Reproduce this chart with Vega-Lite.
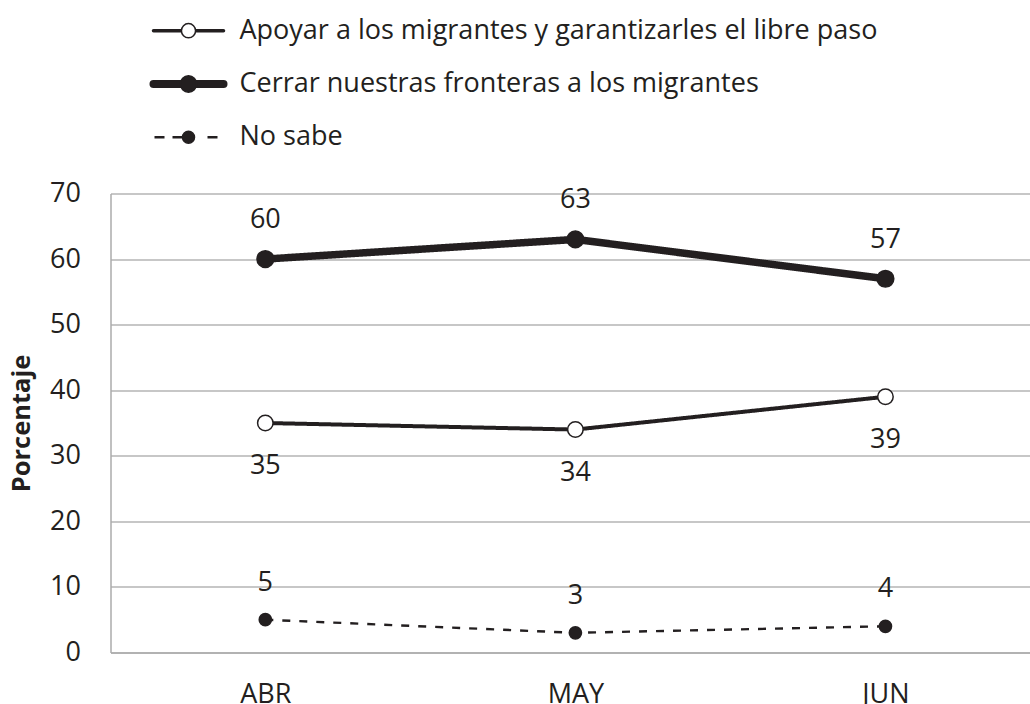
{
  "$schema": "https://vega.github.io/schema/vega-lite/v6.json",
  "padding": {"left": 9.5, "top": 4, "right": 0, "bottom": 0},
  "spacing": 15.5,
  "background": "white",
  "config": {
    "view": {"stroke": null},
    "font": "Open Sans",
    "axis": {"labelFont": "Open Sans", "titleFont": "Open Sans", "labelColor": "#231f20", "titleColor": "#231f20"}
  },
  "resolve": {"scale": {"strokeWidth": "independent", "strokeDash": "independent", "size": "independent", "fill": "independent"}},
  "datasets": {
    "valores": [
      {"mes": "ABR", "serie": "Apoyar a los migrantes y garantizarles el libre paso", "valor": 35},
      {"mes": "MAY", "serie": "Apoyar a los migrantes y garantizarles el libre paso", "valor": 34},
      {"mes": "JUN", "serie": "Apoyar a los migrantes y garantizarles el libre paso", "valor": 39},
      {"mes": "ABR", "serie": "Cerrar nuestras fronteras a los migrantes", "valor": 60},
      {"mes": "MAY", "serie": "Cerrar nuestras fronteras a los migrantes", "valor": 63},
      {"mes": "JUN", "serie": "Cerrar nuestras fronteras a los migrantes", "valor": 57},
      {"mes": "ABR", "serie": "No sabe", "valor": 5},
      {"mes": "MAY", "serie": "No sabe", "valor": 3},
      {"mes": "JUN", "serie": "No sabe", "valor": 4}
    ],
    "series": [
      {"serie": "Apoyar a los migrantes y garantizarles el libre paso"},
      {"serie": "Cerrar nuestras fronteras a los migrantes"},
      {"serie": "No sabe"}
    ]
  },
  "vconcat": [
    {
      "width": 919,
      "height": 160,
      "data": {"name": "series"},
      "encoding": {
        "y": {
          "field": "serie", "type": "nominal",
          "scale": {"type": "point", "padding": 0.5, "domain": ["Apoyar a los migrantes y garantizarles el libre paso", "Cerrar nuestras fronteras a los migrantes", "No sabe"]},
          "axis": null
        }
      },
      "layer": [
        {
          "transform": [{"filter": "datum.serie !== 'No sabe'"}],
          "mark": {"type": "rule", "color": "#231f20", "strokeCap": "round"},
          "encoding": {
            "x": {"datum": 0.468, "type": "quantitative", "scale": {"domain": [0, 10], "nice": false, "zero": false}, "axis": null},
            "x2": {"datum": 1.2296},
            "strokeWidth": {
              "field": "serie", "type": "nominal",
              "scale": {"type": "ordinal", "domain": ["Apoyar a los migrantes y garantizarles el libre paso", "Cerrar nuestras fronteras a los migrantes", "No sabe"], "range": [3.5, 8, 2.7]},
              "legend": null
            }
          }
        },
        {
          "transform": [{"filter": "datum.serie === 'No sabe'"}],
          "mark": {"type": "rule", "color": "#231f20", "strokeCap": "butt"},
          "encoding": {
            "x": {"datum": 0.4788, "type": "quantitative"},
            "x2": {"datum": 1.1643},
            "strokeWidth": {"field": "serie", "type": "nominal", "legend": null},
            "strokeDash": {
              "field": "serie", "type": "nominal",
              "scale": {"type": "ordinal", "domain": ["Apoyar a los migrantes y garantizarles el libre paso", "Cerrar nuestras fronteras a los migrantes", "No sabe"], "range": [[1, 0], [1, 0], [10, 8, 10, 25, 10, 100]]},
              "legend": null
            }
          }
        },
        {
          "mark": {"type": "point", "shape": "circle", "filled": true, "stroke": "#231f20", "strokeWidth": 1.5, "opacity": 1},
          "encoding": {
            "x": {"datum": 0.8487, "type": "quantitative"},
            "fill": {
              "field": "serie", "type": "nominal",
              "scale": {"type": "ordinal", "domain": ["Apoyar a los migrantes y garantizarles el libre paso", "Cerrar nuestras fronteras a los migrantes", "No sabe"], "range": ["#ffffff", "#231f20", "#231f20"]},
              "legend": null
            },
            "size": {
              "field": "serie", "type": "nominal",
              "scale": {"type": "ordinal", "domain": ["Apoyar a los migrantes y garantizarles el libre paso", "Cerrar nuestras fronteras a los migrantes", "No sabe"], "range": [200, 270, 145]},
              "legend": null
            }
          }
        },
        {
          "mark": {"type": "text", "align": "left", "baseline": "middle", "fontSize": 27, "font": "Open Sans", "color": "#231f20"},
          "encoding": {
            "x": {"datum": 1.4037, "type": "quantitative"},
            "text": {"field": "serie", "type": "nominal"}
          }
        }
      ]
    },
    {
      "width": 919,
      "height": 459,
      "data": {"name": "valores"},
      "encoding": {
        "x": {
          "field": "mes", "type": "ordinal", "sort": ["ABR", "MAY", "JUN"],
          "scale": {"type": "point", "padding": 0.482, "align": 0.518},
          "axis": {"title": null, "labelAngle": 0, "labelFontSize": 27, "ticks": false, "labelPadding": 29, "domainColor": "#ababab", "domainWidth": 1.5, "grid": false}
        },
        "y": {
          "field": "valor", "type": "quantitative",
          "scale": {"domain": [0, 70], "nice": false},
          "axis": {"title": "Porcentaje", "titleFontSize": 25.5, "titleFontWeight": "bold", "titlePadding": 15, "values": [0, 10, 20, 30, 40, 50, 60, 70], "labelFontSize": 27, "ticks": false, "labelPadding": 30, "domainColor": "#ababab", "domainWidth": 1.5, "gridColor": "#b5b5b5", "gridWidth": 1.5}
        }
      },
      "layer": [
        {
          "mark": {"type": "line", "strokeCap": "butt", "color": "#231f20"},
          "encoding": {
            "detail": {"field": "serie", "type": "nominal"},
            "strokeWidth": {
              "field": "serie", "type": "nominal",
              "scale": {"type": "ordinal", "domain": ["Apoyar a los migrantes y garantizarles el libre paso", "Cerrar nuestras fronteras a los migrantes", "No sabe"], "range": [4, 7.5, 2.4]},
              "legend": null
            },
            "strokeDash": {
              "field": "serie", "type": "nominal",
              "scale": {"type": "ordinal", "domain": ["Apoyar a los migrantes y garantizarles el libre paso", "Cerrar nuestras fronteras a los migrantes", "No sabe"], "range": [[1, 0], [1, 0], [8, 9]]},
              "legend": null
            }
          }
        },
        {
          "mark": {"type": "point", "shape": "circle", "filled": true, "stroke": "#231f20", "strokeWidth": 1.5, "opacity": 1},
          "encoding": {
            "fill": {
              "field": "serie", "type": "nominal",
              "scale": {"type": "ordinal", "domain": ["Apoyar a los migrantes y garantizarles el libre paso", "Cerrar nuestras fronteras a los migrantes", "No sabe"], "range": ["#ffffff", "#231f20", "#231f20"]},
              "legend": null
            },
            "size": {
              "field": "serie", "type": "nominal",
              "scale": {"type": "ordinal", "domain": ["Apoyar a los migrantes y garantizarles el libre paso", "Cerrar nuestras fronteras a los migrantes", "No sabe"], "range": [240, 280, 150]},
              "legend": null
            }
          }
        },
        {
          "transform": [{"filter": "datum.serie === 'Apoyar a los migrantes y garantizarles el libre paso'"}],
          "mark": {"type": "text", "fontSize": 27, "font": "Open Sans", "color": "#231f20", "dy": 43, "baseline": "middle"},
          "encoding": {"text": {"field": "valor", "type": "quantitative"}}
        },
        {
          "transform": [{"filter": "datum.serie === 'Cerrar nuestras fronteras a los migrantes'"}],
          "mark": {"type": "text", "fontSize": 27, "font": "Open Sans", "color": "#231f20", "dy": -39, "baseline": "middle"},
          "encoding": {"text": {"field": "valor", "type": "quantitative"}}
        },
        {
          "transform": [{"filter": "datum.serie === 'No sabe'"}],
          "mark": {"type": "text", "fontSize": 27, "font": "Open Sans", "color": "#231f20", "dy": -37, "baseline": "middle"},
          "encoding": {"text": {"field": "valor", "type": "quantitative"}}
        }
      ]
    }
  ]
}
